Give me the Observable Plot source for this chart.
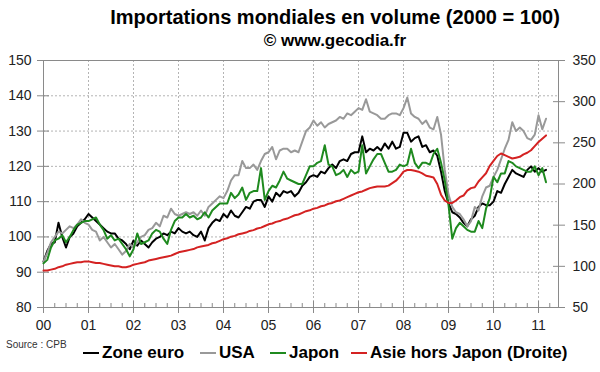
<!DOCTYPE html>
<html><head><meta charset="utf-8">
<script src="https://cdn.jsdelivr.net/npm/d3@7"></script>
<script src="https://cdn.jsdelivr.net/npm/@observablehq/plot@0.6"></script>
<style>
body{margin:0;background:#fff;}
#wrap{position:relative;width:600px;height:372px;overflow:hidden;font-family:Arial,"Liberation Sans",sans-serif;}
#chart{position:absolute;left:0;top:0;}
.t{position:absolute;white-space:nowrap;color:#000;}
.it{position:absolute;top:342px;display:flex;align-items:center;font-weight:bold;font-size:17px;line-height:22px;color:#000;white-space:nowrap;}
.sw{display:inline-block;width:16px;height:2px;margin-right:3px;}
</style></head><body>
<div id="wrap">
<div id="chart"></div>
<div class="t" style="left:0;width:670px;text-align:center;top:6px;font-weight:bold;font-size:20px;">Importations mondiales en volume (2000 = 100)</div>
<div class="t" style="left:0;width:670px;text-align:center;top:31px;font-weight:bold;font-size:17px;">© www.gecodia.fr</div>
<div class="t" style="left:6px;top:339px;font-size:10px;color:#333;">Source : CPB</div>
</div>
<script>
// ---- data (monthly, Jan 2000 to Mar 2011) ----
const startYear = 2000;
const zoneEuro = [
  93, 96, 98, 98.5, 104, 100, 97, 100, 101, 103, 104, 105,
  106.5, 105.5, 104.5, 103.5, 102.5, 101.5, 101, 101, 99.5, 99, 98, 96.5,
  99, 97.5, 99, 98, 97, 98.5, 99.5, 100, 101, 100.5, 101.5, 101,
  102.5, 101.5, 101, 101.5, 100.5, 100, 101.5, 99, 102.5, 104, 105, 104.5,
  106.5, 105.5, 107.5, 106, 105.5, 107, 108.5, 108, 110, 110.5, 110.5, 108.5,
  111.5, 110, 112.5, 111.5, 113, 112.5, 113, 111.5, 112.5, 114.5, 115.5, 117,
  117.5, 117, 118.5, 118, 119.5, 120.5, 119.5, 121.5, 122, 121.5, 123.5, 124,
  124, 128.5, 124, 125, 124.5, 125.5, 124.5, 126.5, 125, 127, 125, 125.5,
  129.5, 129.5, 127, 128, 128.5, 125.5, 126, 124, 124.5, 123, 118.5, 113,
  109.5, 107, 106.5, 105.5, 104, 103, 105, 106, 108.5, 109.5, 109, 109,
  110, 113, 112.5, 115, 117, 119, 118, 117.5, 117, 119, 120, 118.5,
  119.5, 118.5, 119
];
const usa = [
  93, 95.5, 98.5, 100, 101.5, 101, 102, 103, 102.5, 103.5, 105, 104,
  103.5, 102, 101.5, 99, 100, 98.5, 97, 98, 96.5, 95, 96, 98,
  97, 98.5, 100, 100.5, 102, 102.5, 104, 103, 106, 105.5, 108, 106.5,
  106, 106.5, 107, 106.5, 107, 106, 107.5, 106, 108.5, 109.5, 110.5, 111.5,
  111, 113, 116, 117.5, 117.5, 121.5, 119.5, 119.5, 120.5, 119, 121.5, 123.5,
  124, 125.5, 122, 124.5, 125, 125, 124, 124.5, 124, 127, 130, 131,
  133, 131.5, 132.5, 131, 132, 132.5, 133, 134, 133.5, 135, 134.5, 135.5,
  136.5, 136, 139, 135.5, 135, 134.5, 133.5, 133.5, 134.5, 135, 135, 134.5,
  136.5, 139.5, 135, 134, 133.5, 132, 133, 131, 130.5, 134, 129, 119,
  112, 108.5, 107, 106.5, 105, 103, 104.5, 108.5, 107.5, 111.5, 114, 114.5,
  117, 119, 122, 125, 127.5, 132.5, 130, 131, 130, 128, 127.5, 129,
  134.5, 130.5, 133.5
];
const japon = [
  92.5, 93.5, 97, 99, 99.5, 100.5, 98.5, 100, 102, 103.5, 104, 104.5,
  104.5, 105, 105.5, 103.5, 102, 99.5, 100.5, 99, 99.5, 98, 96.5, 94.5,
  96.5, 101, 98, 98.5, 99, 101, 102, 101.5, 99.5, 98, 102, 104.5,
  105.5, 105.5, 106.5, 105.5, 106, 105, 105.5, 107, 105.5, 107.5, 108.5, 109.5,
  109.5, 109.5, 112.5, 111, 112, 114, 110.5, 112.5, 113, 113, 119.5, 110.5,
  113, 114.5, 114, 116, 118.5, 116.5, 116, 115.5, 115, 115, 117.5, 120,
  120, 121, 121.5, 126, 120.5, 120, 117.5, 118, 119, 117, 119, 118,
  118.5, 126, 118, 120, 122, 123.5, 123.5, 121, 118.5, 118.5, 119, 120.5,
  120, 120.5, 125, 121, 119.5, 121, 121, 120.5, 123.5, 125, 121, 116,
  109, 99.5, 102.5, 104, 103, 102, 101.5, 101.5, 104.5, 102.5, 108, 111,
  117, 115.5, 118, 118, 121.5, 121, 120, 119.5, 119, 118.5, 118.5, 120,
  117.5, 119.5, 115.5
];
// right-hand axis
const asieHorsJapon = [
  95, 95, 96, 97, 99, 100, 102, 103, 104, 105, 105, 106,
  106, 105, 104, 104, 103, 102, 101, 100, 100, 99, 99, 100,
  102, 103, 104, 105, 107, 108, 109, 110, 111, 112, 113, 115,
  117, 118, 119, 120, 121, 123, 124, 125, 126, 128, 129, 131,
  133, 134, 136, 137, 139, 140, 141, 143, 144, 146, 147, 149,
  151, 152, 154, 155, 157, 158, 160, 162, 163, 165, 167, 168,
  170, 171, 173, 174, 176, 177, 179, 180, 182, 184, 186, 188,
  190, 191, 193, 195, 196, 197, 197, 197, 198, 201, 204, 209,
  215, 217, 217, 216, 215, 213, 210, 209, 208, 200, 187, 180,
  177, 177, 180, 184, 186, 192, 195, 196, 203, 208, 213, 222,
  228, 234, 237, 235, 233, 231, 232, 233, 236, 238, 241, 246,
  251, 255, 259
];
const seriesNames = ["Zone euro", "USA", "Japon", "Asie hors Japon (Droite)"];
const seriesColors = ["#000000", "#999999", "#1f8a1f", "#d42222"];
const legendLeft = [83, 200, 270, 351];
const leftTicks = [80, 90, 100, 110, 120, 130, 140, 150];
const rightTicks = [50, 100, 150, 200, 250, 300, 350];
const yearTicks = [2000, 2001, 2002, 2003, 2004, 2005, 2006, 2007, 2008, 2009, 2010, 2011];
const yearLabels = ["00", "01", "02", "03", "04", "05", "06", "07", "08", "09", "10", "11"];

// ---- scales linking the two axes ----
const leftMin = 80, leftMax = 150, rightMin = 50, rightMax = 350;
const toLeft = r => leftMin + (r - rightMin) * (leftMax - leftMin) / (rightMax - rightMin);
const toRight = v => rightMin + (v - leftMin) * (rightMax - rightMin) / (leftMax - leftMin);

const rows = [];
[zoneEuro, usa, japon].forEach((arr, k) => arr.forEach((v, i) =>
  rows.push({series: seriesNames[k], date: startYear + i / 12, value: v})));
asieHorsJapon.forEach((r, i) =>
  rows.push({series: seriesNames[3], date: startYear + i / 12, value: toLeft(r)}));

const xEnd = 2011.444;
const quarterTicks = [];
yearTicks.forEach(y => [0.25, 0.5, 0.75].forEach(q => { if (y + q < xEnd) quarterTicks.push(y + q); }));

const axisColor = "#8a8a8a";
const gridStyle = {stroke: "#b4b4b4", strokeOpacity: 1, strokeWidth: 1, strokeDasharray: "2,2"};

const chart = Plot.plot({
  width: 600, height: 372,
  marginTop: 60, marginBottom: 65, marginLeft: 43, marginRight: 42,
  style: {fontFamily: 'Arial, "Liberation Sans", sans-serif', fontSize: "14px", background: "transparent", color: "#222"},
  x: {domain: [2000, xEnd], label: null},
  y: {domain: [leftMin, leftMax], label: null},
  color: {domain: seriesNames, range: seriesColors},
  marks: [
    Plot.gridY(leftTicks.slice(1, -1), gridStyle),
    Plot.gridX(yearTicks.slice(1), gridStyle),
    Plot.frame({stroke: axisColor}),
    Plot.axisY(leftTicks, {anchor: "left", tickSize: 6, tickPadding: 6, stroke: axisColor, fill: "#222", fontSize: 14, label: null}),
    Plot.axisY(leftTicks, {anchor: "left", tickSize: -6, tickFormat: () => "", stroke: axisColor, label: null}),
    Plot.axisY(rightTicks.map(toLeft), {anchor: "right", tickSize: 6, tickPadding: 8, stroke: axisColor, fill: "#222", fontSize: 14, label: null,
      tickFormat: v => String(Math.round(toRight(v)))}),
    Plot.axisY(rightTicks.map(toLeft), {anchor: "right", tickSize: -6, tickFormat: () => "", stroke: axisColor, label: null}),
    Plot.axisX(yearTicks, {anchor: "bottom", tickSize: 6, tickPadding: 7, stroke: axisColor, fill: "#222", fontSize: 14, label: null,
      tickFormat: d => yearLabels[yearTicks.indexOf(d)]}),
    Plot.axisX(yearTicks, {anchor: "bottom", tickSize: -6, tickFormat: () => "", stroke: axisColor, label: null}),
    Plot.axisX(quarterTicks, {anchor: "bottom", tickSize: -4, tickFormat: () => "", stroke: axisColor, label: null}),
    Plot.line(rows, {x: "date", y: "value", z: "series", stroke: "series", strokeWidth: 2, strokeLinejoin: "round"})
  ]
});
document.getElementById("chart").appendChild(chart);

const wrap = document.getElementById("wrap");
seriesNames.forEach((n, k) => {
  const it = document.createElement("div");
  it.className = "it";
  it.style.left = legendLeft[k] + "px";
  const sw = document.createElement("span");
  sw.className = "sw";
  sw.style.background = seriesColors[k];
  const tx = document.createElement("span");
  tx.textContent = n;
  it.appendChild(sw); it.appendChild(tx);
  wrap.appendChild(it);
});
</script>
</body></html>
